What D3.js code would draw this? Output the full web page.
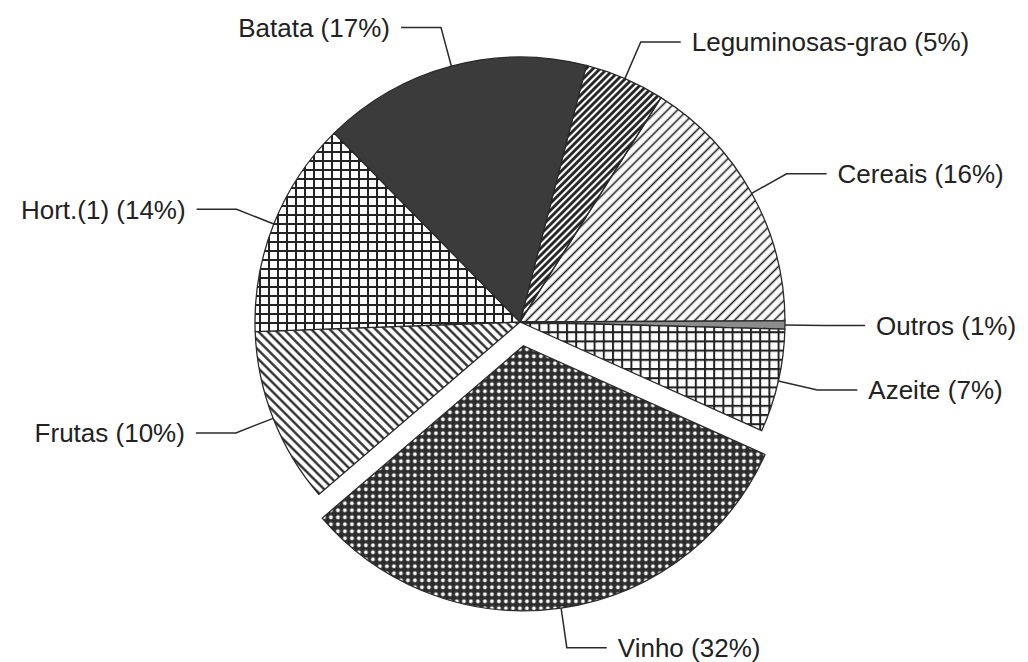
<!DOCTYPE html>
<html>
<head>
<meta charset="utf-8">
<script src="https://cdn.jsdelivr.net/npm/d3@7"></script>
<style>
body { margin: 0; background: #fff; }
</style>
</head>
<body>
<div id="chart"></div>
<script>

// slices, clockwise from the top
var names  = ["leguminosas", "cereais", "outros", "azeite", "vinho", "frutas", "hort", "batata"];
var labels = ["Leguminosas-grao (5%)", "Cereais (16%)", "Outros (1%)", "Azeite (7%)",
              "Vinho (32%)", "Frutas (10%)", "Hort.(1) (14%)", "Batata (17%)"];
var shares = [4.9, 16.0, 0.5, 6.3, 32.0, 10.7, 13.2, 16.4];
var exploded = ["vinho"];

function addPatterns(defs){

    // "/" hatch
    function hatch(id, size, sw, angle){
        defs.append("pattern")
            .attr("id", id)
            .attr("patternUnits", "userSpaceOnUse")
            .attr("width", size).attr("height", size)
            .attr("patternTransform", "rotate(" + angle + ")")
          .append("line")
            .attr("x1", size / 2).attr("y1", 0)
            .attr("x2", size / 2).attr("y2", size)
            .attr("stroke", "#1e1e1e")
            .attr("stroke-width", sw);
    }

    function grid(id, size, sw){
        var p = defs.append("pattern")
            .attr("id", id)
            .attr("patternUnits", "userSpaceOnUse")
            .attr("width", size).attr("height", size);
        p.append("rect").attr("width", size).attr("height", size).attr("fill", "#fff");
        p.append("path")
            .attr("d", "M0 1H" + size + "M1 0V" + size)
            .attr("stroke", "#222")
            .attr("stroke-width", sw);
    }

    hatch("pat-leguminosas", 5, 2.8, 45);
    hatch("pat-cereais", 7, 1.6, 45);
    hatch("pat-frutas", 6.5, 2.2, -45);
    grid("pat-azeite", 9.2, 2);
    grid("pat-hort", 9, 2);

    var dots = defs.append("pattern")
        .attr("id", "pat-vinho")
        .attr("patternUnits", "userSpaceOnUse")
        .attr("width", 7).attr("height", 7);
    dots.append("rect").attr("width", 7).attr("height", 7).attr("fill", "#2c2c2c");
    dots.append("circle").attr("cx", 3.5).attr("cy", 3.5).attr("r", 1.9).attr("fill", "#fff");
}

function drawPie(containerId){

    var width = 1028, height = 662;
    var cx = 520, cy = 322, radius = 265;
    var elbowR = 305, armLen = 40, textGap = 11, explode = 24;

    var fills = {
        leguminosas: "url(#pat-leguminosas)",
        cereais: "url(#pat-cereais)",
        outros: "#8c8c8c",
        azeite: "url(#pat-azeite)",
        vinho: "url(#pat-vinho)",
        frutas: "url(#pat-frutas)",
        hort: "url(#pat-hort)",
        batata: "#3b3b3b"
    };

    var svg = d3.select('#' + containerId).append("svg")
        .attr("width", width)
        .attr("height", height);

    addPatterns(svg.append("defs"));

    var data = names.map(function(n, i){
        return { name: n, label: labels[i], value: shares[i] };
    });

    var start = 14.5 * Math.PI / 180;
    var pie = d3.pie()
        .sort(null)
        .value(d => d.value)
        .startAngle(start)
        .endAngle(start + 2 * Math.PI);

    var arc = d3.arc().innerRadius(0).outerRadius(radius);
    var arcs = pie(data);

    function mid(d){ return (d.startAngle + d.endAngle) / 2; }
    function polar(a, r){ return [Math.sin(a) * r, -Math.cos(a) * r]; }
    function offset(d){
        return exploded.indexOf(d.data.name) >= 0 ? polar(mid(d), explode) : [0, 0];
    }

    var g = svg.append("g")
        .attr("transform", "translate(" + cx + "," + cy + ")");

    g.selectAll("path.slice")
        .data(arcs)
        .join("path")
        .attr("class", "slice")
        .attr("transform", d => "translate(" + offset(d) + ")")
        .attr("d", arc)
        .attr("fill", d => fills[d.data.name])
        .attr("stroke", "#2a2a2a")
        .attr("stroke-width", 1.3)
        .attr("stroke-linejoin", "round");

    // leader lines and labels
    var lab = g.selectAll("g.label")
        .data(arcs)
        .join("g")
        .attr("class", "label")
        .attr("transform", d => "translate(" + offset(d) + ")");

    lab.append("polyline")
        .attr("fill", "none")
        .attr("stroke", "#2a2a2a")
        .attr("stroke-width", 1.5)
        .attr("points", function(d){
            var a = mid(d);
            var p0 = polar(a, radius);
            var p1 = polar(a, elbowR);
            var side = p1[0] >= 0 ? 1 : -1;
            var p2 = [p1[0] + side * armLen, p1[1]];
            return [p0, p1, p2].map(p => p.join(",")).join(" ");
        });

    lab.append("text")
        .attr("x", function(d){
            var p1 = polar(mid(d), elbowR);
            var side = p1[0] >= 0 ? 1 : -1;
            return p1[0] + side * (armLen + textGap);
        })
        .attr("y", d => polar(mid(d), elbowR)[1])
        .attr("dy", "0.36em")
        .attr("text-anchor", d => polar(mid(d), elbowR)[0] >= 0 ? "start" : "end")
        .attr("font-family", "'Liberation Sans', Arial, sans-serif")
        .attr("font-size", 26)
        .attr("fill", "#222")
        .text(d => d.data.label);
}

drawPie('chart');
</script>
</body>
</html>
